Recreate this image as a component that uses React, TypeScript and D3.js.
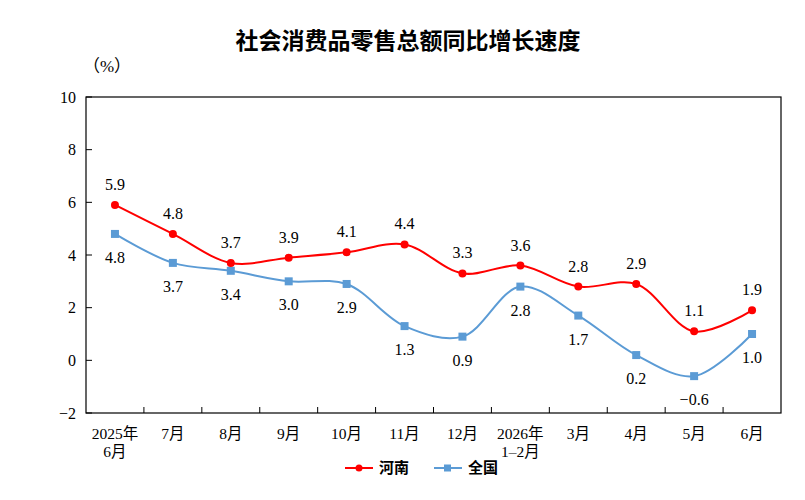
import * as React from "react";
import { useEffect } from "react";
import * as d3 from "d3";

const months = ["2025年\n6月", "7月", "8月", "9月", "10月", "11月", "12月", "2026年\n1–2月", "3月", "4月", "5月", "6月"];
const henan = [5.9, 4.8, 3.7, 3.9, 4.1, 4.4, 3.3, 3.6, 2.8, 2.9, 1.1, 1.9];
const national = [4.8, 3.7, 3.4, 3.0, 2.9, 1.3, 0.9, 2.8, 1.7, 0.2, -0.6, 1.0];
const yTicks = [-2, 0, 2, 4, 6, 8, 10];

const width = 805, height = 500;
const margin = { top: 97, right: 24, bottom: 87, left: 86 };
const red = "#FF0000";
const blue = "#5B9BD5";
const serif = "'Liberation Serif', 'Noto Sans CJK SC', serif";
const cjk = "'Noto Sans CJK SC', sans-serif";

const fmt = (v: number) => (v < 0 ? "−" + Math.abs(v).toFixed(1) : v.toFixed(1));

const App: React.FC = () => {
    useEffect(() => {
        document.body.style.margin = "0";
    }, []);

    const innerW = width - margin.left - margin.right;
    const innerH = height - margin.top - margin.bottom;

    const x = d3.scaleBand<number>().domain(d3.range(months.length)).range([0, innerW]);
    const y = d3.scaleLinear().domain([-2, 10]).range([innerH, 0]);
    const cx = (i: number) => (x(i) as number) + x.bandwidth() / 2;

    const path = d3.line<number>()
        .x((_, i) => cx(i))
        .y(d => y(d))
        .curve(d3.curveCatmullRom.alpha(0.5));

    return (
        <svg width={width} height={height} style={{ display: "block" }}>
            <text x={408} y={49} textAnchor="middle" fontFamily={cjk} fontWeight="bold" fontSize={23}>
                社会消费品零售总额同比增长速度
            </text>
            <text x={107} y={72} textAnchor="middle" fontFamily={serif} fontSize={17}>（%）</text>
            <g transform={`translate(${margin.left},${margin.top})`}>
                <rect x={0} y={0} width={innerW} height={innerH} fill="none" stroke="#000" strokeWidth={1.2} />
                {yTicks.map(t => (
                    <g key={t}>
                        <line x1={0} x2={6} y1={y(t)} y2={y(t)} stroke="#000" />
                        <text x={-10} y={y(t)} dy="0.35em" textAnchor="end" fontFamily={serif} fontSize={16}>
                            {t < 0 ? "−" + Math.abs(t) : t}
                        </text>
                    </g>
                ))}
                {months.map((m, i) => (
                    <g key={i}>
                        {i > 0 && <line x1={x(i)} x2={x(i)} y1={innerH} y2={innerH - 6} stroke="#000" />}
                        {m.split("\n").map((s, j) => (
                            <text key={j} x={cx(i)} y={innerH + 26 + j * 18} textAnchor="middle" fontFamily={serif} fontSize={15.5}>
                                {s}
                            </text>
                        ))}
                    </g>
                ))}
                <path d={path(national) || ""} fill="none" stroke={blue} strokeWidth={2} />
                <path d={path(henan) || ""} fill="none" stroke={red} strokeWidth={2} />
                {national.map((v, i) => (
                    <g key={"n" + i}>
                        <rect x={cx(i) - 4} y={y(v) - 4} width={8} height={8} fill={blue} />
                        <text x={cx(i)} y={y(v) + 29} textAnchor="middle" fontFamily={serif} fontSize={16}>{fmt(v)}</text>
                    </g>
                ))}
                {henan.map((v, i) => (
                    <g key={"h" + i}>
                        <circle cx={cx(i)} cy={y(v)} r={4} fill={red} />
                        <text x={cx(i)} y={y(v) - 15} textAnchor="middle" fontFamily={serif} fontSize={16}>{fmt(v)}</text>
                    </g>
                ))}
            </g>
            <g transform="translate(345,468)">
                <line x1={0} x2={28} y1={0} y2={0} stroke={red} strokeWidth={2} />
                <circle cx={14} cy={0} r={3.5} fill={red} />
                <text x={34} y={0} dy="0.35em" fontFamily={cjk} fontWeight="bold" fontSize={15}>河南</text>
                <line x1={89} x2={117} y1={0} y2={0} stroke={blue} strokeWidth={2} />
                <rect x={99} y={-3.5} width={7} height={7} fill={blue} />
                <text x={123} y={0} dy="0.35em" fontFamily={cjk} fontWeight="bold" fontSize={15}>全国</text>
            </g>
        </svg>
    );
};

export default App;
